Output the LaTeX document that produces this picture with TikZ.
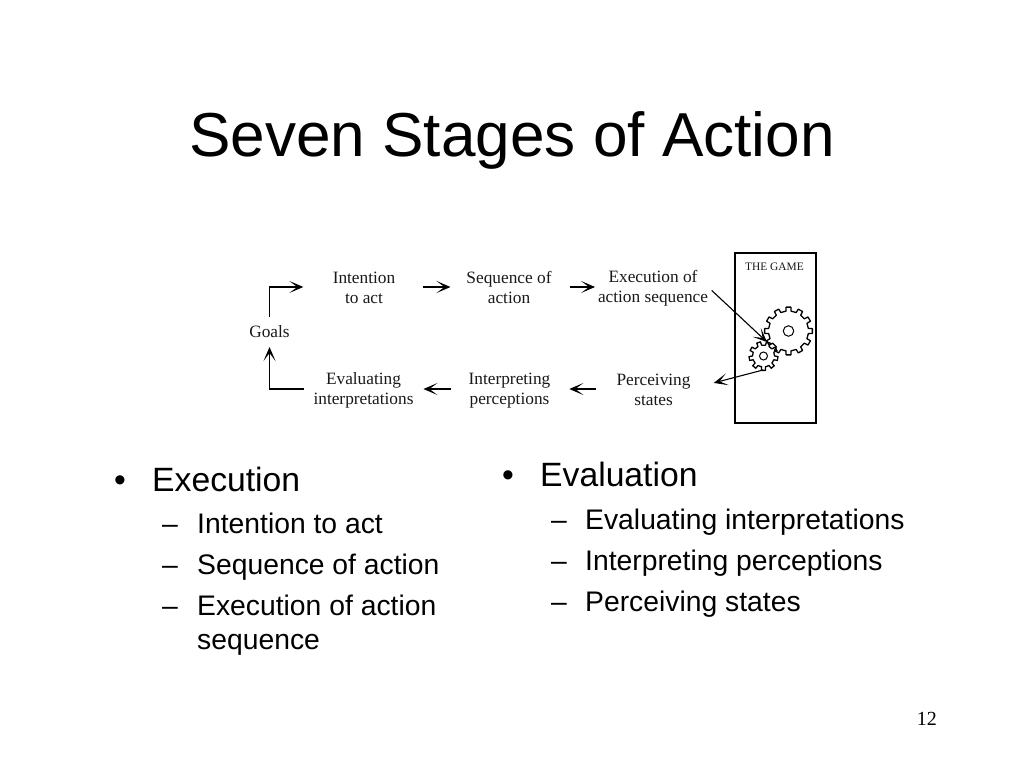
\documentclass[tikz,border=0pt]{standalone}
\usepackage{fontspec}
\setmainfont{Liberation Serif}
\newfontfamily\arialf{Liberation Sans}
\usetikzlibrary{arrows.meta,calc}
\newcommand{\ls}{\rule[-3pt]{0pt}{18pt}}
\newcommand{\gearpath}[5]{% centre name, outer r, inner r, teeth, offset
  \draw[gearline] (#1) ++({#5-90/#4}:#3)
    \foreach \i in {1,...,#4}{
      -- ($(#1)+({#5+360/#4*\i-360/#4-70/#4}:#2)$)
      -- ($(#1)+({#5+360/#4*\i-360/#4+70/#4}:#2)$)
      -- ($(#1)+({#5+360/#4*\i-360/#4+90/#4}:#3)$)
      -- ($(#1)+({#5+360/#4*\i-90/#4}:#3)$)
    } -- cycle;}
\tikzset{
  x=1pt,y=-1pt,
  stagetext/.style={font=\fontsize{17.3}{20}\selectfont,align=center,inner sep=0pt,outer sep=0pt,text=black!90},
  head/.style={line width=1.1pt,-{Stealth[length=14pt,width=12pt,inset=8pt]}},
  flow/.style={head,black},
  gearline/.style={line width=1.3pt,black,line join=round},
  titletext/.style={font=\arialf\fontsize{62.1}{70}\selectfont,anchor=base west,inner sep=0pt},
  lvlone/.style={font=\arialf\fontsize{33.7}{34}\selectfont,anchor=base west,inner sep=0pt},
  lvltwo/.style={font=\arialf\fontsize{28.3}{34}\selectfont,anchor=base west,inner sep=0pt,align=left},
  gamebox/.style={draw=black,line width=1.6pt,minimum width=81pt,minimum height=170pt,inner sep=0pt},
  hole/.style={draw=black,line width=1pt,circle,inner sep=0pt},
}
\begin{document}
\begin{tikzpicture}
\useasboundingbox[fill=white] (0,0) rectangle (1024,768);
\node[titletext] (title) at (189,156) {Seven Stages of Action};

\node[gamebox] (game) at (775.5,338) {};
\node[font=\fontsize{11.4}{13}\selectfont,inner sep=0pt,text=black!90] (gamelabel) at (774.5,267) {THE GAME};

\node[stagetext] (goals) at (269.5,331) {\ls Goals};
\node[stagetext] (intent) at (364,287) {\ls Intention\\\ls to act};
\node[stagetext] (seq) at (509,287) {\ls Sequence of\\\ls action};
\node[stagetext] (exec) at (653,287) {\ls Execution of\\\ls action sequence};
\node[stagetext] (evalu) at (363.5,389) {\ls Evaluating\\\ls interpretations};
\node[stagetext] (interp) at (509.5,389) {\ls Interpreting\\\ls perceptions};
\node[stagetext] (perc) at (653.5,389) {\ls Perceiving\\\ls states};

\node[hole,minimum size=10.5pt] (biggear) at (788.5,331) {};
\node[hole,minimum size=8pt] (smallgear) at (763.5,356) {};
\gearpath{biggear}{24}{20}{12}{0}
\gearpath{smallgear}{14.5}{11}{9}{10}
\coordinate (execin) at (767,342);
\coordinate (percout) at (763,370);

\draw[flow,shorten <=5pt] (goals.north) |- ([xshift=-29.5pt]intent.west);
\draw[flow,shorten <=28pt,shorten >=16pt] (intent.east) -- (seq.west);
\draw[flow,shorten <=18pt,shorten >=3pt] (seq.east) -- (exec.west);
\draw[flow,shorten <=5pt] (exec.east) -- (execin);
\draw[flow,shorten >=24pt] (percout) -- (perc.east);
\draw[flow,shorten <=21pt,shorten >=19pt] (perc.west) -- (interp.east);
\draw[flow,shorten <=18pt,shorten >=10pt] (interp.west) -- (evalu.east);
\draw[flow,shorten >=7pt] ([xshift=-10pt]evalu.west) -| (goals.south);

\node[lvlone] (b1) at (114,491) {•};
\node[lvlone] (t1) at (152,491) {Execution};
\node[lvltwo] (d1) at (162,533) {–};
\node[lvltwo] (t2) at (197,533) {Intention to act};
\node[lvltwo] (d2) at (162,574) {–};
\node[lvltwo] (t3) at (197,574) {Sequence of action};
\node[lvltwo] (d3) at (162,615) {–};
\node[lvltwo] (t4) at (197,649) {Execution of action\\sequence};

\node[lvlone] (b2) at (502,486) {•};
\node[lvlone] (t5) at (540,486) {Evaluation};
\node[lvltwo] (d4) at (551,529) {–};
\node[lvltwo] (t6) at (585,529) {Evaluating interpretations};
\node[lvltwo] (d5) at (551,570) {–};
\node[lvltwo] (t7) at (585,570) {Interpreting perceptions};
\node[lvltwo] (d6) at (551,611) {–};
\node[lvltwo] (t8) at (585,611) {Perceiving states};

\node[font=\fontsize{20}{22}\selectfont,anchor=base east,inner sep=0pt] (pagenum) at (937,725) {12};
\end{tikzpicture}
\end{document}
